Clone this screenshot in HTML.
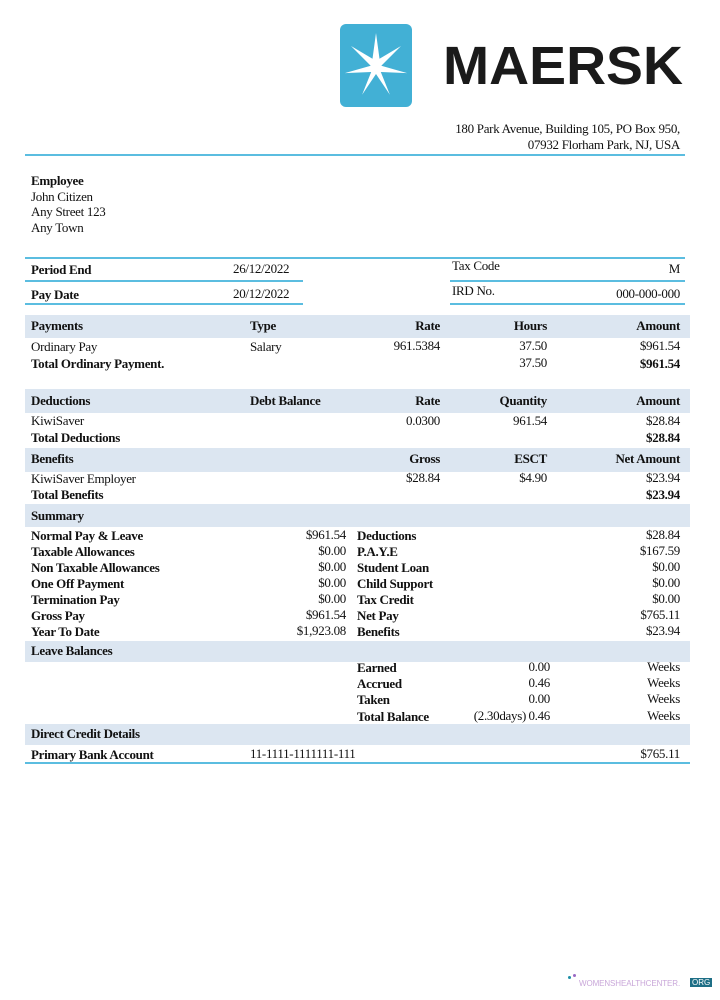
<!DOCTYPE html>
<html><head><meta charset="utf-8"><style>
body{margin:0;width:720px;height:1000px;background:#fff;position:relative;font-family:"Liberation Serif",serif;font-size:13px;color:#111;overflow:hidden}
.t{position:absolute;white-space:nowrap;line-height:14px;letter-spacing:-0.3px}
.b{font-weight:bold}
.r{text-align:right}
.band{position:absolute;left:25px;width:665px;background:#dce6f1}
.ln{position:absolute;height:2px;background:#5bbde0}
</style></head><body>
<svg style="position:absolute;left:0;top:0" width="720" height="120">
<rect x="340" y="24" width="72" height="83" rx="6" fill="#42b0d5"/>
<polygon fill="#fff" points="376,33 379.5,58.8 401,46 381.3,65.8 407.2,73.1 380.8,72 389.9,94.8 376,74 362.1,94.8 371.2,72 344.8,73.1 370.7,65.8 351,46 372.5,58.8"/>
<text x="443" y="84" font-family="Liberation Sans,sans-serif" font-weight="bold" font-size="54" textLength="240" lengthAdjust="spacingAndGlyphs" fill="#1a1a1a">MAERSK</text>
</svg>
<div class="t r" style="right:40px;top:122px">180 Park Avenue, Building 105, PO Box 950,</div>
<div class="t r" style="right:40px;top:138px">07932 Florham Park, NJ, USA</div>
<div class="ln" style="left:25px;width:660px;top:154px"></div>

<div class="t b" style="left:31px;top:174px">Employee</div>
<div class="t" style="left:31px;top:190px">John Citizen</div>
<div class="t" style="left:31px;top:205px">Any Street 123</div>
<div class="t" style="left:31px;top:221px">Any Town</div>

<div class="ln" style="left:25px;width:660px;top:257px"></div>
<div class="t b" style="left:31px;top:263px">Period End</div>
<div class="t" style="left:233px;top:262px">26/12/2022</div>
<div class="ln" style="left:25px;width:278px;top:280px"></div>
<div class="t b" style="left:31px;top:288px">Pay Date</div>
<div class="t" style="left:233px;top:287px">20/12/2022</div>
<div class="ln" style="left:25px;width:278px;top:303px"></div>
<div class="t" style="left:452px;top:259px">Tax Code</div>
<div class="t r" style="right:40px;top:262px">M</div>
<div class="ln" style="left:450px;width:235px;top:280px"></div>
<div class="t" style="left:452px;top:284px">IRD No.</div>
<div class="t r" style="right:40px;top:287px">000-000-000</div>
<div class="ln" style="left:450px;width:235px;top:303px"></div>

<div class="band" style="top:315px;height:23px"></div>
<div class="t b" style="left:31px;top:319px">Payments</div>
<div class="t b" style="left:250px;top:319px">Type</div>
<div class="t b r" style="right:280px;top:319px">Rate</div>
<div class="t b r" style="right:173px;top:319px">Hours</div>
<div class="t b r" style="right:40px;top:319px">Amount</div>
<div class="t" style="left:31px;top:340px">Ordinary Pay</div>
<div class="t" style="left:250px;top:340px">Salary</div>
<div class="t r" style="right:280px;top:339px">961.5384</div>
<div class="t r" style="right:173px;top:339px">37.50</div>
<div class="t r" style="right:40px;top:339px">$961.54</div>
<div class="t b" style="left:31px;top:357px">Total Ordinary Payment.</div>
<div class="t r" style="right:173px;top:356px">37.50</div>
<div class="t b r" style="right:40px;top:357px">$961.54</div>

<div class="band" style="top:389px;height:24px"></div>
<div class="t b" style="left:31px;top:394px">Deductions</div>
<div class="t b" style="left:250px;top:394px">Debt Balance</div>
<div class="t b r" style="right:280px;top:394px">Rate</div>
<div class="t b r" style="right:173px;top:394px">Quantity</div>
<div class="t b r" style="right:40px;top:394px">Amount</div>
<div class="t" style="left:31px;top:414px">KiwiSaver</div>
<div class="t r" style="right:280px;top:414px">0.0300</div>
<div class="t r" style="right:173px;top:414px">961.54</div>
<div class="t r" style="right:40px;top:414px">$28.84</div>
<div class="t b" style="left:31px;top:431px">Total Deductions</div>
<div class="t b r" style="right:40px;top:431px">$28.84</div>

<div class="band" style="top:448px;height:24px"></div>
<div class="t b" style="left:31px;top:452px">Benefits</div>
<div class="t b r" style="right:280px;top:452px">Gross</div>
<div class="t b r" style="right:173px;top:452px">ESCT</div>
<div class="t b r" style="right:40px;top:452px">Net Amount</div>
<div class="t" style="left:31px;top:472px">KiwiSaver Employer</div>
<div class="t r" style="right:280px;top:471px">$28.84</div>
<div class="t r" style="right:173px;top:471px">$4.90</div>
<div class="t r" style="right:40px;top:471px">$23.94</div>
<div class="t b" style="left:31px;top:488px">Total Benefits</div>
<div class="t b r" style="right:40px;top:488px">$23.94</div>

<div class="band" style="top:504px;height:23px"></div>
<div class="t b" style="left:31px;top:509px">Summary</div>
<div class="t b" style="left:31px;top:529px">Normal Pay &amp; Leave</div>
<div class="t b" style="left:31px;top:545px">Taxable Allowances</div>
<div class="t b" style="left:31px;top:561px">Non Taxable Allowances</div>
<div class="t b" style="left:31px;top:577px">One Off Payment</div>
<div class="t b" style="left:31px;top:593px">Termination Pay</div>
<div class="t b" style="left:31px;top:609px">Gross Pay</div>
<div class="t b" style="left:31px;top:625px">Year To Date</div>
<div class="t r" style="right:374px;top:528px">$961.54</div>
<div class="t r" style="right:374px;top:544px">$0.00</div>
<div class="t r" style="right:374px;top:560px">$0.00</div>
<div class="t r" style="right:374px;top:576px">$0.00</div>
<div class="t r" style="right:374px;top:592px">$0.00</div>
<div class="t r" style="right:374px;top:608px">$961.54</div>
<div class="t r" style="right:374px;top:624px">$1,923.08</div>
<div class="t b" style="left:357px;top:529px">Deductions</div>
<div class="t b" style="left:357px;top:545px">P.A.Y.E</div>
<div class="t b" style="left:357px;top:561px">Student Loan</div>
<div class="t b" style="left:357px;top:577px">Child Support</div>
<div class="t b" style="left:357px;top:593px">Tax Credit</div>
<div class="t b" style="left:357px;top:609px">Net Pay</div>
<div class="t b" style="left:357px;top:625px">Benefits</div>
<div class="t r" style="right:40px;top:528px">$28.84</div>
<div class="t r" style="right:40px;top:544px">$167.59</div>
<div class="t r" style="right:40px;top:560px">$0.00</div>
<div class="t r" style="right:40px;top:576px">$0.00</div>
<div class="t r" style="right:40px;top:592px">$0.00</div>
<div class="t r" style="right:40px;top:608px">$765.11</div>
<div class="t r" style="right:40px;top:624px">$23.94</div>

<div class="band" style="top:641px;height:21px"></div>
<div class="t b" style="left:31px;top:644px">Leave Balances</div>
<div class="t b" style="left:357px;top:661px">Earned</div>
<div class="t b" style="left:357px;top:677px">Accrued</div>
<div class="t b" style="left:357px;top:693px">Taken</div>
<div class="t b" style="left:357px;top:710px">Total Balance</div>
<div class="t r" style="right:194px;top:709px">(2.30days)</div>
<div class="t r" style="right:170px;top:660px">0.00</div>
<div class="t r" style="right:170px;top:676px">0.46</div>
<div class="t r" style="right:170px;top:692px">0.00</div>
<div class="t r" style="right:170px;top:709px">0.46</div>
<div class="t r" style="right:40px;top:660px">Weeks</div>
<div class="t r" style="right:40px;top:676px">Weeks</div>
<div class="t r" style="right:40px;top:692px">Weeks</div>
<div class="t r" style="right:40px;top:709px">Weeks</div>

<div class="band" style="top:724px;height:21px"></div>
<div class="t b" style="left:31px;top:727px">Direct Credit Details</div>
<div class="t b" style="left:31px;top:748px">Primary Bank Account</div>
<div class="t" style="left:250px;top:747px">11-1111-1111111-111</div>
<div class="t r" style="right:40px;top:747px">$765.11</div>
<div class="ln" style="left:25px;width:665px;top:762px;height:2px"></div>

<div style="position:absolute;left:568px;top:976px;width:3px;height:3px;background:#1e8fa6;border-radius:50%"></div>
<div style="position:absolute;left:573px;top:974px;width:3px;height:3px;background:#9a6ac4;border-radius:50%"></div>
<div style="position:absolute;left:579px;top:979px;font:8px 'Liberation Sans',sans-serif;color:#c9a7d9;letter-spacing:-0.1px">WOMENSHEALTHCENTER.</div>
<div style="position:absolute;left:690px;top:978px;font:8px 'Liberation Sans',sans-serif;color:#fff;background:#1e6f86;padding:0 2px">ORG</div>
</body></html>
